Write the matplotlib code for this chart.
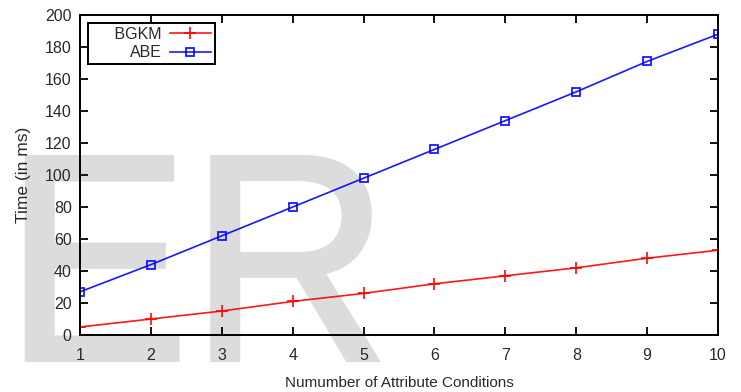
import numpy as np
import matplotlib
matplotlib.use("Agg")
import matplotlib.pyplot as plt
from matplotlib.textpath import TextPath
from matplotlib.patches import PathPatch
from matplotlib.font_manager import FontProperties
from matplotlib.transforms import Affine2D

# data
conditions = [1, 2, 3, 4, 5, 6, 7, 8, 9, 10]
bgkm = [5, 10, 15, 21, 26, 32, 37, 42, 48, 53]
abe = [27, 44, 62, 80, 98, 116, 134, 152, 171, 188]
y_ticks = [0, 20, 40, 60, 80, 100, 120, 140, 160, 180, 200]

plt.rcParams['font.family'] = ['Liberation Sans', 'DejaVu Sans']

fig = plt.figure(figsize=(7.41, 3.92), dpi=100)
ax = fig.add_axes([0.108, 0.1454, 0.861, 0.8163])
ax.patch.set_alpha(0)

# watermark behind everything (a bit taller than wide, strokes thickened)
wm = TextPath((0, 0), "ER", size=1, prop=FontProperties(family="Liberation Sans"))
wm_tr = Affine2D().scale(278, 295).translate(4, 32)
fig.patches.append(PathPatch(wm, transform=wm_tr, facecolor="#dcdcdc",
                             edgecolor="#dcdcdc", lw=3, zorder=-5))

ax.plot(conditions, bgkm, color="red", lw=1.2, marker="+", ms=9, mew=1.3,
        label="     BGKM", alpha=0.9)
ax.plot(conditions, abe, color="blue", lw=1.2, marker="s", ms=6, mew=1.3,
        mfc="none", label="ABE", alpha=0.9)

ax.set_xlim(1, 10)
ax.set_ylim(0, 200)
ax.set_xticks(conditions)
ax.set_yticks(y_ticks)
ax.tick_params(direction="in", length=6, width=1.3, top=True, right=True,
               labelsize=11.5, labelcolor="#2a2a2a")
ax.tick_params(axis="x", pad=9)
ax.tick_params(axis="y", pad=6)
for s in ax.spines.values():
    s.set_linewidth(1.4)

ax.set_xlabel("Numumber of Attribute Conditions", fontsize=11, color="#2a2a2a", labelpad=10)
ax.set_ylabel("Time (in ms)", fontsize=12.5, color="#2a2a2a", labelpad=10)

leg = ax.legend(loc="upper left", bbox_to_anchor=(0.0125, 0.975), markerfirst=False,
                fancybox=False, edgecolor="black", framealpha=1, fontsize=11.5,
                handlelength=2.6, borderpad=0.25, labelspacing=0.2, handletextpad=0.5,
                borderaxespad=0)
leg.get_frame().set_linewidth(1.4)
for t in leg.get_texts():
    t.set_color("#2a2a2a")

fig.savefig("out.png", dpi=100)
